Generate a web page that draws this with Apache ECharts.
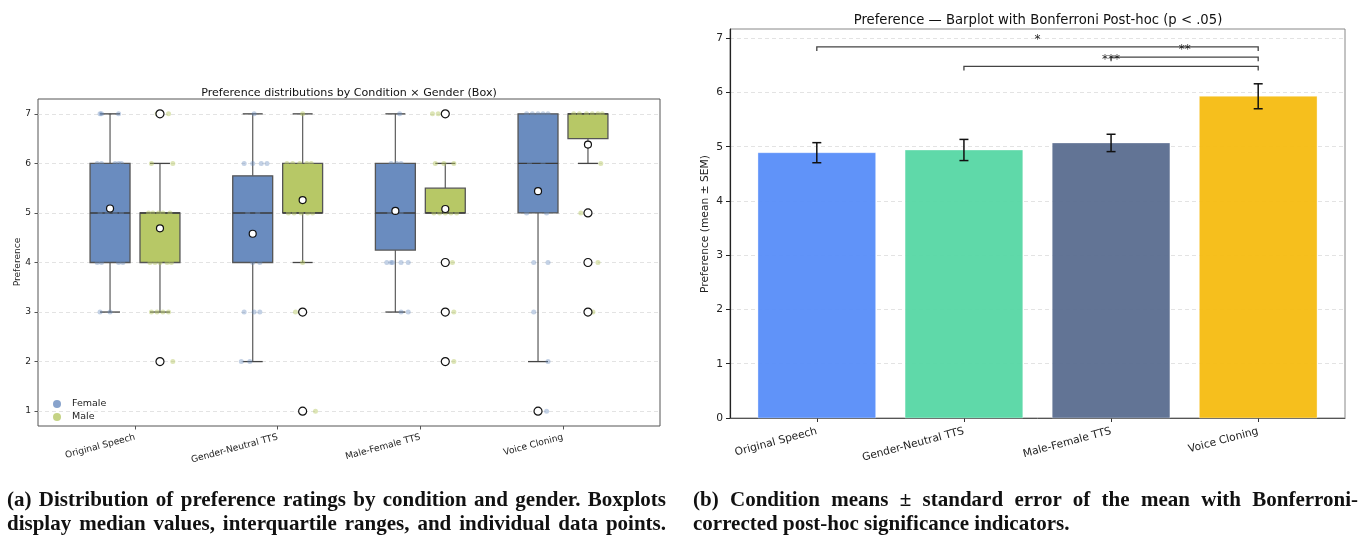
<!DOCTYPE html>
<html><head><meta charset="utf-8">
<script src="https://cdn.jsdelivr.net/npm/echarts@6/dist/echarts.min.js"></script>
<style>
html,body{margin:0;padding:0;background:#fff}
#wrap{position:relative;width:1364px;height:539px;overflow:hidden}
#c{position:absolute;left:0;top:0;width:1364px;height:539px}
.cap{position:absolute;font-family:"Liberation Serif","DejaVu Serif",serif;font-weight:bold;font-size:21px;color:#111;white-space:nowrap;line-height:24px}
.just{text-align:justify;text-align-last:justify}
</style>
</head><body><div id="wrap"><div id="c"></div>
<div class="cap just" style="left:7px;top:487px;width:659px">(a) Distribution of preference ratings by condition and gender. Boxplots</div>
<div class="cap just" style="left:7px;top:511px;width:659px">display median values, interquartile ranges, and individual data points.</div>
<div class="cap just" style="left:693px;top:487px;width:665px">(b) Condition means ± standard error of the mean with Bonferroni-</div>
<div class="cap" style="left:693px;top:511px">corrected post-hoc significance indicators.</div>
</div>
<script>
// ---------- data ----------
const categories = ['Original Speech', 'Gender-Neutral TTS', 'Male-Female TTS', 'Voice Cloning'];
const yTicksLeft = [1, 2, 3, 4, 5, 6, 7];
const yTicksRight = [0, 1, 2, 3, 4, 5, 6, 7];
// box stats: [lower whisker, Q1, median, Q3, upper whisker]
const femaleBox = [[3, 4, 5, 6, 7], [2, 4, 5, 5.75, 7], [3, 4.25, 5, 6, 7], [2, 5, 6, 7, 7]];
const maleBox = [[3, 4, 5, 5, 6], [4, 5, 5, 6, 7], [5, 5, 5, 5.5, 6], [6, 6.5, 7, 7, 7]];
const femaleMean = [5.09, 4.58, 5.04, 5.44];
const maleMean = [4.69, 5.26, 5.08, 6.38];
const femaleOutliers = [[], [], [], [1]];
const maleOutliers = [[7, 2], [3, 1], [7, 4, 3, 2], [5, 4, 3]];
// individual ratings: [value, horizontal jitter in category units]
const femaleStrip = [
  [[7,-0.07],[7,-0.06],[7,0.06],[6,-0.09],[6,-0.06],[6,0.035],[6,0.06],[6,0.08],[5,-0.07],[5,-0.02],[5,0.035],[5,0.08],[4,-0.06],[4,0.06],[4,-0.09],[4,0.09],[3,-0.07],[3,0]],
  [[7,0.01],[6,-0.06],[6,0],[6,0.06],[6,0.10],[5,-0.035],[5,0.035],[4,0],[4,0.05],[3,-0.06],[3,0.01],[3,0.05],[2,-0.08],[2,-0.02]],
  [[7,0.03],[6,-0.03],[6,0.01],[6,0.04],[5,-0.04],[5,0.04],[4,-0.06],[4,-0.03],[4,-0.02],[4,0.04],[4,0.09],[3,0.04],[3,0.09]],
  [[7,-0.08],[7,-0.04],[7,0],[7,0.035],[7,0.07],[6,-0.06],[6,0.035],[5,-0.08],[5,0.06],[4,-0.03],[4,0.07],[3,-0.03],[2,0.07],[1,0.06]]
];
const maleStrip = [
  [[7,-0.02],[7,0.06],[6,-0.06],[6,0.09],[5,-0.08],[5,-0.05],[5,-0.01],[5,0.02],[5,0.07],[4,-0.07],[4,-0.035],[4,0],[4,0.05],[4,0.08],[3,-0.06],[3,-0.02],[3,0.02],[3,0.06],[2,0.09]],
  [[7,0],[6,-0.11],[6,-0.07],[6,-0.02],[6,0.03],[6,0.06],[5,-0.10],[5,-0.06],[5,-0.01],[5,0.035],[5,0.07],[4,0],[3,-0.05],[1,0.09]],
  [[7,-0.09],[7,-0.05],[6,-0.07],[6,-0.01],[6,0.06],[5,-0.08],[5,-0.04],[5,0],[5,0.04],[5,0.08],[4,0.05],[3,0.06],[2,0.06]],
  [[7,-0.10],[7,-0.06],[7,-0.01],[7,0.03],[7,0.07],[7,0.10],[6,0.09],[5,-0.05],[4,0.01],[4,0.07],[3,0.035]]
];
// condition means and SEM
const condMean = [4.89, 4.94, 5.07, 5.93];
const condSem = [0.185, 0.195, 0.16, 0.23];
// significant pairs [from, to], labels and bracket heights
const sigPairs = [[0, 3], [2, 3], [1, 3]];
const sigLabels = ['*', '**', '***'];
const sigHeights = [6.84, 6.65, 6.48];

// ---------- styles ----------
const FONT = 'DejaVu Sans';
const FEMALE = '#6a8cbf', MALE = '#b7c866';
const FEMALE_A = 'rgba(106,140,191,0.5)', MALE_A = 'rgba(183,200,102,0.6)';
const BAR_COLORS = ['#5B8FF9', '#5AD8A6', '#5D7092', '#F6BD16'];
const DODGE = 0.175, BOX_W = 0.28, CAP_W = 0.14;

function boxSeries(stats, offset, color) {
  return {
    type: 'custom', xAxisIndex: 0, yAxisIndex: 0, z: 2,
    data: stats.map((s, i) => [i, s[0], s[1], s[2], s[3], s[4]]),
    renderItem(params, api) {
      const c = api.value(0) + offset;
      const lo = api.value(1), q1 = api.value(2), md = api.value(3), q3 = api.value(4), hi = api.value(5);
      const tl = api.coord([c - BOX_W / 2, q3]);
      const br = api.coord([c + BOX_W / 2, q1]);
      const mid = api.coord([c, md]);
      const pLo = api.coord([c, lo]), pHi = api.coord([c, hi]);
      const pq1 = api.coord([c, q1]), pq3 = api.coord([c, q3]);
      const capL = api.coord([c - CAP_W / 2, lo])[0], capR = api.coord([c + CAP_W / 2, lo])[0];
      const wl = { stroke: '#666', lineWidth: 1.3 };
      const children = [];
      if (hi > q3) {
        children.push({ type: 'line', shape: { x1: pHi[0], y1: pHi[1], x2: pq3[0], y2: pq3[1] }, style: wl });
        children.push({ type: 'line', shape: { x1: capL, y1: pHi[1], x2: capR, y2: pHi[1] }, style: { stroke: '#444', lineWidth: 1.3 } });
      }
      if (lo < q1) {
        children.push({ type: 'line', shape: { x1: pLo[0], y1: pLo[1], x2: pq1[0], y2: pq1[1] }, style: wl });
        children.push({ type: 'line', shape: { x1: capL, y1: pLo[1], x2: capR, y2: pLo[1] }, style: { stroke: '#444', lineWidth: 1.3 } });
      }
      children.push({ type: 'rect', shape: { x: tl[0], y: tl[1], width: br[0] - tl[0], height: br[1] - tl[1] },
        style: { fill: color, stroke: '#555', lineWidth: 1.3 } });
      children.push({ type: 'line', shape: { x1: tl[0], y1: mid[1], x2: br[0], y2: mid[1] }, style: { stroke: '#3a3a3a', lineWidth: 1.4 } });
      return { type: 'group', children };
    }
  };
}

function stripSeries(name, strips, offset, color) {
  const data = [];
  strips.forEach((arr, i) => arr.forEach(p => data.push([i + offset + p[1], p[0]])));
  return { name, type: 'scatter', xAxisIndex: 0, yAxisIndex: 0, z: 3, symbolSize: 5,
    itemStyle: { color }, data, silent: true };
}

function markerSeries(values, size) {
  return { type: 'scatter', xAxisIndex: 0, yAxisIndex: 0, z: 4, symbol: 'circle', symbolSize: size,
    itemStyle: { color: '#fff', borderColor: '#111', borderWidth: 1.2, opacity: 1 }, data: values, silent: true };
}

const femaleMeanPts = femaleMean.map((m, i) => [i - DODGE, m]);
const maleMeanPts = maleMean.map((m, i) => [i + DODGE, m]);
const outPts = [];
femaleOutliers.forEach((a, i) => a.forEach(v => outPts.push([i - DODGE, v])));
maleOutliers.forEach((a, i) => a.forEach(v => outPts.push([i + DODGE, v])));

const gridLine = { show: true, lineStyle: { color: '#dcdcdc', width: 0.8, type: [4, 3] } };

const option = {
  animation: false,
  textStyle: { fontFamily: FONT },
  title: [
    { text: 'Preference distributions by Condition × Gender (Box)', left: 344, top: 83, textAlign: 'center',
      textStyle: { fontFamily: FONT, fontSize: 11.1, fontWeight: 'normal', color: '#111' } },
    { text: 'Preference — Barplot with Bonferroni Post-hoc (p < .05)', left: 1033, top: 9, textAlign: 'center',
      textStyle: { fontFamily: FONT, fontSize: 13.2, fontWeight: 'normal', color: '#111' } }
  ],
  legend: {
    left: 48, top: 394, orient: 'vertical', itemGap: 3, itemWidth: 8, itemHeight: 8, icon: 'circle',
    textStyle: { fontFamily: FONT, fontSize: 9.5, color: '#222', padding: [0, 0, 0, 6] },
    data: [{ name: 'Female', itemStyle: { color: FEMALE } }, { name: 'Male', itemStyle: { color: MALE } }]
  },
  grid: [
    { left: 38, top: 99, width: 622, height: 327, show: true, borderColor: '#555', borderWidth: 1, containLabel: false },
    { left: 730, top: 29, width: 615, height: 389, show: true, borderColor: '#888', borderWidth: 1, containLabel: false }
  ],
  xAxis: [
    { type: 'value', gridIndex: 0, min: -0.68, max: 3.68,
      axisLine: { show: false, onZero: false }, splitLine: { show: false },
      axisTick: { show: true, customValues: [0, 1, 2, 3], length: 3.5, lineStyle: { color: '#555' } },
      axisLabel: { customValues: [0, 1, 2, 3], formatter: v => categories[Math.round(v)], rotate: 15, margin: 11,
        fontFamily: FONT, fontSize: 9.1, color: '#222' } },
    { type: 'value', gridIndex: 1, min: -0.59, max: 3.59,
      axisLine: { show: true, onZero: false, lineStyle: { color: '#555', width: 1 } }, splitLine: { show: false },
      axisTick: { show: true, customValues: [0, 1, 2, 3], length: 4, lineStyle: { color: '#333' } },
      axisLabel: { customValues: [0, 1, 2, 3], formatter: v => categories[Math.round(v)], rotate: 15, margin: 13,
        fontFamily: FONT, fontSize: 10.7, color: '#222' } }
  ],
  yAxis: [
    { type: 'value', gridIndex: 0, min: 0.7, max: 7.3,
      axisLine: { show: false, onZero: false },
      axisTick: { show: true, customValues: yTicksLeft, length: 3.5, lineStyle: { color: '#555' } },
      axisLabel: { customValues: yTicksLeft, margin: 7, fontFamily: FONT, fontSize: 9.1, color: '#222' },
      splitLine: gridLine },
    { type: 'value', gridIndex: 1, min: 0, max: 7.17,
      axisLine: { show: true, onZero: false, lineStyle: { color: '#222', width: 1.2 } },
      axisTick: { show: true, customValues: yTicksRight, length: 4, lineStyle: { color: '#222' } },
      axisLabel: { customValues: yTicksRight, margin: 7, fontFamily: FONT, fontSize: 10.7, color: '#222' },
      splitLine: gridLine }
  ],
  graphic: [
    { type: 'text', x: 18, y: 262, rotation: Math.PI / 2,
      style: { text: 'Preference', font: '9.1px "DejaVu Sans"', fill: '#222', align: 'center', verticalAlign: 'middle' } },
    { type: 'text', x: 705, y: 224, rotation: Math.PI / 2,
      style: { text: 'Preference (mean ± SEM)', font: '10.7px "DejaVu Sans"', fill: '#222', align: 'center', verticalAlign: 'middle' } }
  ],
  series: [
    boxSeries(femaleBox, -DODGE, FEMALE),
    boxSeries(maleBox, DODGE, MALE),
    stripSeries('Female', femaleStrip, -DODGE, FEMALE_A),
    stripSeries('Male', maleStrip, DODGE, MALE_A),
    markerSeries(outPts, 8),
    markerSeries(femaleMeanPts.concat(maleMeanPts), 7),
    // bars
    { type: 'custom', xAxisIndex: 1, yAxisIndex: 1, z: 2,
      data: condMean.map((m, i) => [i, m]),
      renderItem(params, api) {
        const i = api.value(0), m = api.value(1);
        const tl = api.coord([i - 0.4, m]), br = api.coord([i + 0.4, 0]);
        return { type: 'rect', shape: { x: tl[0], y: tl[1], width: br[0] - tl[0], height: br[1] - tl[1] },
          style: { fill: BAR_COLORS[params.dataIndex], opacity: 0.97, stroke: 'rgba(255,255,255,0.35)', lineWidth: 1 } };
      } },
    // error bars
    { type: 'custom', xAxisIndex: 1, yAxisIndex: 1, z: 3,
      data: condMean.map((m, i) => [i, m, condSem[i]]),
      renderItem(params, api) {
        const i = api.value(0), m = api.value(1), s = api.value(2);
        const top = api.coord([i, m + s]), bot = api.coord([i, m - s]);
        const cw = 4.5;
        const st = { stroke: '#111', lineWidth: 1.5 };
        return { type: 'group', children: [
          { type: 'line', shape: { x1: top[0], y1: top[1], x2: bot[0], y2: bot[1] }, style: st },
          { type: 'line', shape: { x1: top[0] - cw, y1: top[1], x2: top[0] + cw, y2: top[1] }, style: st },
          { type: 'line', shape: { x1: bot[0] - cw, y1: bot[1], x2: bot[0] + cw, y2: bot[1] }, style: st }
        ] };
      } },
    // significance brackets
    { type: 'custom', xAxisIndex: 1, yAxisIndex: 1, z: 4,
      data: sigPairs.map((p, k) => [p[0], p[1], sigHeights[k]]),
      renderItem(params, api) {
        const a = api.value(0), b = api.value(1), h = api.value(2);
        const pa = api.coord([a, h]), pb = api.coord([b, h]);
        const drop = 4;
        return { type: 'group', children: [
          { type: 'polyline', shape: { points: [[pa[0], pa[1] + drop], [pa[0], pa[1]], [pb[0], pb[1]], [pb[0], pb[1] + drop]] },
            style: { stroke: '#444', lineWidth: 1.3, fill: null } },
          { type: 'text', x: (pa[0] + pb[0]) / 2, y: pa[1] - 1,
            style: { text: sigLabels[params.dataIndex], font: '12px "DejaVu Sans"', fill: '#222', align: 'center', verticalAlign: 'bottom' } }
        ] };
      } }
  ]
};

const chart = echarts.init(document.getElementById('c'), null, { renderer: 'canvas' });
chart.setOption(option);
</script></body></html>
